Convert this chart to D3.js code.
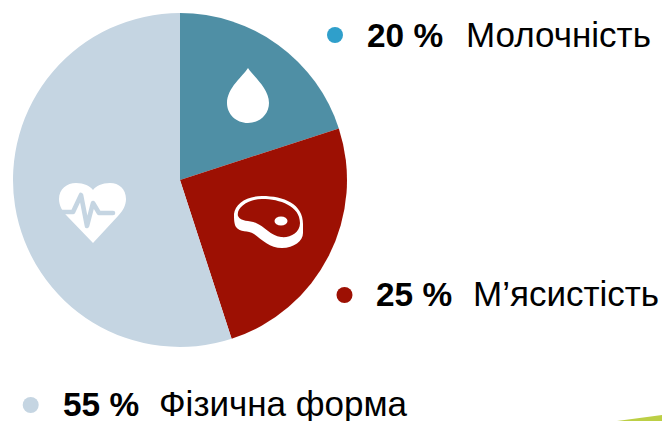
<!DOCTYPE html>
<html><head><meta charset="utf-8">
<script src="https://cdnjs.cloudflare.com/ajax/libs/d3/7.8.5/d3.min.js"></script>
<style>html,body{margin:0;padding:0;background:#fff}svg{display:block}text{font-family:"Liberation Sans",Arial,sans-serif;fill:#000}</style>
</head><body><svg id="c" width="662" height="421"></svg>
<script>
const categories = ["Молочність", "М’ясистість", "Фізична форма"];
const values = [20, 25, 55];
const sliceColors = ["#4f8fa5", "#9d1003", "#c5d5e2"];
const dotColors = ["#2f9fcb", "#9d1003", "#c5d5e2"];

const svg = d3.select("#c");
const cx = 180, cy = 180, R = 167;
const pie = d3.pie().sort(null).value(d => d)(values);
const arc = d3.arc().innerRadius(0).outerRadius(R);
const g = svg.append("g").attr("transform", `translate(${cx},${cy})`);
g.selectAll("path").data(pie).join("path").attr("d", arc).attr("fill", (d,i)=>sliceColors[i]);

// icons
svg.append("path").attr("transform","translate(248,68)")
  .attr("fill","#fff")
  .attr("d","M0,0 C5,8 21,20 21,35 C21,46 12,55 0,55 C-12,55 -21,46 -21,35 C-21,20 -5,8 0,0 Z");

const heart = svg.append("g").attr("transform","translate(93,183)");
heart.append("path").attr("fill","#fff")
  .attr("d","M0,60 L-26,33 C-31,28 -34,22 -34,16 C-34,6 -26,0 -17,0 C-9,0 -3,3 0,7 C3,3 9,0 17,0 C26,0 33,6 33,16 C33,22 30,28 25,33 Z");
heart.append("path").attr("fill","none").attr("stroke",sliceColors[2]).attr("stroke-width",4.6)
  .attr("stroke-linecap","round").attr("stroke-linejoin","round")
  .attr("d","M-36,29 L-20,29 L-12,12 L-6,43 L0,20 L6,30 L20,30");

const meat = svg.append("g").attr("transform","translate(234,196)");
meat.append("path").attr("fill","#fff")
  .attr("d","M28,0 C50,0 69,8 69,28 L69,37 C69,45 60,52 48,52 C36,52 28,44 20,38 C14,34 6,37 2,31 C0,28 0,22 0,18 C1,8 12,0 28,0 Z");
meat.append("path").attr("fill",sliceColors[1])
  .attr("d","M28,3 C46,3 66,10 66,27 C66,37 56,42 47,41 C37,40 30,30 22,27 C15,24 7,26 4,20 C2,12 14,3 28,3 Z");
meat.append("ellipse").attr("cx",47).attr("cy",25).attr("rx",6.5).attr("ry",4.5).attr("fill","#fff");

// legend
const legendPos = [[335,35,47,367,466],[344.5,295,306,376,473],[30.7,405,416,63,159]];
categories.forEach((c,i)=>{
  const [dx,dy,y,px,lx] = legendPos[i];
  svg.append("circle").attr("cx",dx).attr("cy",dy).attr("r",8).attr("fill",dotColors[i]);
  svg.append("text").attr("x",px).attr("y",y).attr("font-size",33.4).attr("font-weight","bold").text(`${values[i]} %`);
  svg.append("text").attr("x",lx).attr("y",y).attr("font-size",35).text(c);
});

// decorative corner
svg.append("path").attr("fill","#bccf45").attr("d","M617,421 L662,415 L662,421 Z");
</script></body></html>
